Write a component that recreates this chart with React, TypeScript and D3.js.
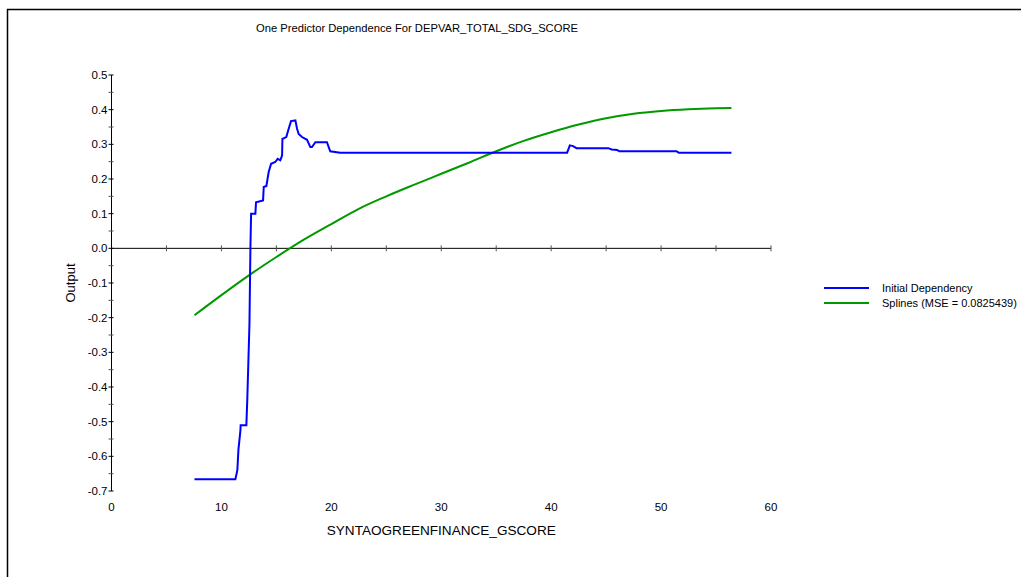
import React from "react";
import * as d3 from "d3";

const title = "One Predictor Dependence For DEPVAR_TOTAL_SDG_SCORE";
const xLabel = "SYNTAOGREENFINANCE_GSCORE";
const yLabel = "Output";
const seriesNames = ["Initial Dependency", "Splines (MSE = 0.0825439)"];
const seriesColors = ["#0000ff", "#009900"];

const xTicks = [0, 10, 20, 30, 40, 50, 60];
const yTicks = [0.5, 0.4, 0.3, 0.2, 0.1, 0.0, -0.1, -0.2, -0.3, -0.4, -0.5, -0.6, -0.7];

// Initial Dependency (step-like curve)
const depX = [7.55, 11.27, 11.45, 11.55, 11.73, 11.75, 12.27, 12.36, 12.45, 12.55, 12.64, 12.7, 13.09, 13.15, 13.79, 13.85, 14.09, 14.3, 14.52, 14.9, 15.12, 15.36, 15.52, 15.55, 15.9, 16.12, 16.33, 16.73, 16.88, 17.03, 17.33, 17.79, 18.09, 18.24, 18.55, 19.6, 19.9, 20.8, 41.45, 41.7, 42.0, 42.3, 45.2, 45.5, 46.0, 46.2, 51.4, 51.6, 56.4];
const depY = [-0.666, -0.666, -0.64, -0.58, -0.525, -0.51, -0.51, -0.43, -0.33, -0.22, 0.004, 0.1, 0.1, 0.133, 0.138, 0.177, 0.18, 0.22, 0.244, 0.249, 0.258, 0.254, 0.268, 0.316, 0.321, 0.345, 0.367, 0.369, 0.345, 0.33, 0.321, 0.313, 0.292, 0.292, 0.306, 0.306, 0.28, 0.276, 0.276, 0.297, 0.295, 0.289, 0.289, 0.285, 0.284, 0.28, 0.28, 0.276, 0.276];

// Splines fit
const splX = [7.55, 10, 12.5, 15, 17.5, 20, 22.5, 25, 27.5, 30, 32.5, 35, 37.5, 40, 42.5, 45, 47.5, 50, 52.5, 55, 56.4];
const splY = [-0.193, -0.135, -0.078, -0.025, 0.025, 0.07, 0.114, 0.15, 0.183, 0.215, 0.247, 0.28, 0.31, 0.335, 0.357, 0.375, 0.388, 0.396, 0.401, 0.404, 0.405];

export default function App() {
  const W = 1021, H = 577;
  const x = d3.scaleLinear().domain([0, 60]).range([111.5, 771]);
  const y = d3.scaleLinear().domain([-0.7, 0.5]).range([491, 75]);
  const line = d3.line<[number, number]>().x(d => x(d[0])).y(d => y(d[1]));
  const smooth = d3.line<[number, number]>().x(d => x(d[0])).y(d => y(d[1])).curve(d3.curveMonotoneX);
  const dep: [number, number][] = depX.map((v, i) => [v, depY[i]]);
  const spl: [number, number][] = splX.map((v, i) => [v, splY[i]]);
  const font = "'Liberation Sans', Arial, sans-serif";
  const y0 = y(0);
  const xMinor = d3.range(5, 61, 5);
  const yMinor = d3.range(-0.7, 0.5001, 0.05);

  return (
    <svg width={W} height={H} style={{ position: "absolute", left: 0, top: 0, background: "#fff" }} fontFamily={font}>
      <rect x={0} y={0} width={W} height={H} fill="#fff" />
      {/* frame */}
      <line x1={7} y1={9.5} x2={W} y2={9.5} stroke="#000" strokeWidth={1.5} />
      <line x1={7.5} y1={9} x2={7.5} y2={H} stroke="#000" strokeWidth={1.5} />
      {/* title */}
      <text x={417} y={32} fontSize={11} textAnchor="middle" textLength={322} lengthAdjust="spacingAndGlyphs" fill="#000">{title}</text>
      {/* y axis */}
      <line x1={x(0)} y1={y(0.5)} x2={x(0)} y2={y(-0.7)} stroke="#000" strokeWidth={1} />
      {yMinor.map((t, i) => (
        <line key={"ym" + i} x1={x(0) - 3} x2={x(0) + 2} y1={y(t)} y2={y(t)} stroke={i % 2 === 0 ? "#000" : "#555"} strokeWidth={1} />
      ))}
      {yTicks.map((t, i) => (
        <text key={"yt" + i} x={x(0) - 4} y={y(t) + 4} fontSize={11.5} textAnchor="end" fill="#000">{t.toFixed(1)}</text>
      ))}
      <text transform={`translate(75,${y(-0.1)}) rotate(-90)`} fontSize={13} textAnchor="middle" fill="#000">{yLabel}</text>
      {/* x axis at y=0 */}
      <line x1={x(0)} y1={y0} x2={x(60)} y2={y0} stroke="#000" strokeWidth={1} />
      {xMinor.map((t, i) => (
        <line key={"xm" + i} x1={x(t)} x2={x(t)} y1={y0 - 3} y2={y0 + 3} stroke="#555" strokeWidth={1} />
      ))}
      {xTicks.map((t, i) => (
        <text key={"xt" + i} x={x(t)} y={511} fontSize={11.5} textAnchor="middle" fill="#000">{t}</text>
      ))}
      <text x={x(30)} y={535} fontSize={13.5} textAnchor="middle" textLength={229} lengthAdjust="spacingAndGlyphs" fill="#000">{xLabel}</text>
      {/* series */}
      <path d={smooth(spl) || ""} fill="none" stroke={seriesColors[1]} strokeWidth={2} />
      <path d={line(dep) || ""} fill="none" stroke={seriesColors[0]} strokeWidth={2} />
      {/* legend */}
      {seriesNames.map((n, i) => (
        <g key={"lg" + i}>
          <line x1={824} x2={869} y1={288 + i * 15} y2={288 + i * 15} stroke={seriesColors[i]} strokeWidth={2} />
          <text x={882} y={292 + i * 15} fontSize={11} fill="#000">{n}</text>
        </g>
      ))}
    </svg>
  );
}
